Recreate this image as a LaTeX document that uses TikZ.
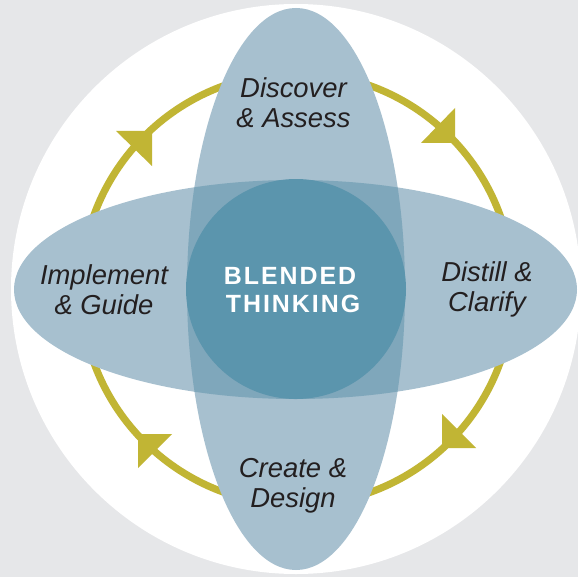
\documentclass[tikz,border=0pt]{standalone}
\usepackage{fontspec}
\setmainfont{Liberation Sans}
\newfontfamily\hubfont[LetterSpace=8]{Liberation Sans}
\definecolor{bgc}{HTML}{E6E7E9}
\definecolor{lobe}{HTML}{A7C0CF}
\definecolor{over}{HTML}{7FA7BB}
\definecolor{hub}{HTML}{5B95AD}
\definecolor{olive}{HTML}{C1B534}
\definecolor{ink}{HTML}{231F20}
\tikzset{
  phase/.style={font=\fontsize{27.5}{30}\selectfont\itshape,text=ink,align=center,inner sep=0pt},
  hubtext/.style={font=\fontsize{25}{28}\hubfont\bfseries,text=white,align=center,inner sep=0pt},
  tip/.style={fill=olive,draw=none}
}
\begin{document}
\begin{tikzpicture}[x=1bp,y=-1bp]
\useasboundingbox (0,0) rectangle (578,577);
\fill[bgc] (0,0) rectangle (578,577);
\fill[white] (296,289) circle[radius=285];
\draw[olive,line width=7.2bp] (297,289) circle[radius=216];
\fill[tip] (116,131) -- (152,131) -- (152,166) -- cycle;
\fill[tip] (421,143) -- (455,143) -- (455,108) -- cycle;
\fill[tip] (138,434) -- (172,434) -- (138,468) -- cycle;
\fill[tip] (442,414) -- (442,448) -- (476,448) -- cycle;
\fill[lobe] (296,289) ellipse[x radius=109,y radius=281];
\fill[lobe] (295.5,289.5) ellipse[x radius=281.5,y radius=109.5];
\begin{scope}
\clip (296,289) ellipse[x radius=109,y radius=281];
\fill[over] (295.5,289.5) ellipse[x radius=281.5,y radius=109.5];
\end{scope}
\fill[hub] (296,289) circle[radius=110];
\node[phase] (discover) at (293.5,103) {Discover\\\& Assess};
\node[phase] (distill) at (487,289) {Distill \&\\Clarify};
\node[phase] (create) at (293,486) {Create \&\\Design};
\node[phase] (implement) at (104,289.5) {Implement\\\& Guide};
\node[hubtext] (blended) at (293,290) {BLENDED\hspace*{6bp}\\THINKING};
\end{tikzpicture}
\end{document}
